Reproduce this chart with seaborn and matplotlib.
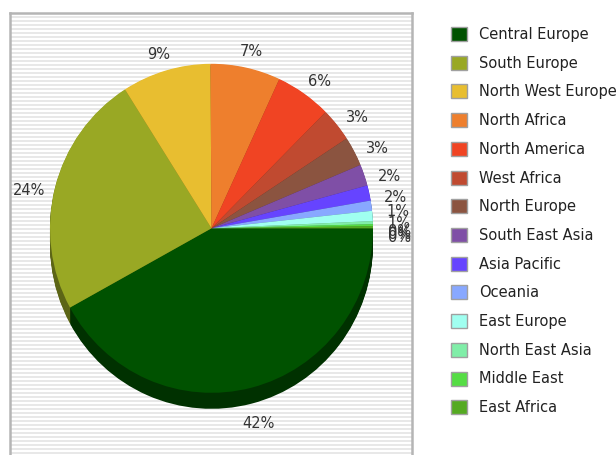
import matplotlib
matplotlib.use("Agg")
import matplotlib.pyplot as plt
import matplotlib.colors as mcolors
from matplotlib.patches import Patch
import numpy as np
import seaborn as sns

# Share of traffic by region (percent)
regions = [
    "Central Europe", "South Europe", "North West Europe", "North Africa",
    "North America", "West Africa", "North Europe", "South East Asia",
    "Asia Pacific", "Oceania", "East Europe", "North East Asia",
    "Middle East", "East Africa",
]
shares = [42.0, 24.0, 8.9, 7.0, 5.6, 3.3, 2.9, 2.1, 1.5, 1.0, 1.0, 0.3, 0.2, 0.2]
colors = [
    "#005200", "#99a824", "#e8be30", "#ee7f2d", "#f04423", "#c04a30",
    "#8b5440", "#7f4fa6", "#6644ff", "#88a8ff", "#a0fff0", "#80eea8",
    "#55dd44", "#55aa22",
]

sns.set_style("white")
plt.rcParams["font.family"] = ["DejaVu Sans"]

W, H = 616, 455
fig = plt.figure(figsize=(W / 100, H / 100), dpi=100)

# striped panel behind the pie (sizes in pixels)
px, py, pw, ph = 10, 1, 402, 441
bg = fig.add_axes([px / W, py / H, pw / W, ph / H], zorder=0)
bg.set_xlim(0, pw)
bg.set_ylim(0, ph)
bg.set_facecolor("white")
for y in range(0, ph, 4):
    bg.axhspan(y, y + 2, color="#e8e8e8", lw=0)
bg.set_xticks([])
bg.set_yticks([])
for s in bg.spines.values():
    s.set_color("#b5b5b5")
    s.set_linewidth(1.8)
bg.spines["bottom"].set_visible(False)

ax = fig.add_axes([px / W, py / H, pw / W, ph / H], zorder=1)
ax.patch.set_alpha(0)

# pie is slightly taller than wide
sy = 164.5 / 161.5
cx, cy, r = 201.5, (H - 228.3 - py) / sy, 161.5
depth = 16 / sy
dark = [tuple(c * 0.6 for c in mcolors.to_rgb(col)) for col in colors]

# extruded side of the pie
for d in np.arange(depth, 0, -1.0):
    ax.pie(shares, colors=dark, startangle=0, counterclock=False,
           center=(cx, cy - d), radius=r, wedgeprops=dict(lw=0))

wedges, _, autotexts = ax.pie(
    shares, colors=colors, startangle=0, counterclock=False,
    center=(cx, cy), radius=r, autopct="%.0f%%",
    wedgeprops=dict(lw=0),
    textprops=dict(color="#333333", fontsize=10.5),
)
# labels sit on an ellipse around the pie, pushed down toward the bottom
for w, t in zip(wedges, autotexts):
    mid = np.deg2rad((w.theta1 + w.theta2) / 2)
    s = np.sin(mid)
    t.set_position((cx + 1.164 * r * np.cos(mid),
                    cy + 1.103 * r * s - 0.62 * depth * (1 - s)))
    t.set_ha("center")
    t.set_va("center")

ax.set_aspect("auto")
ax.set_xlim(0, pw)
ax.set_ylim(0, ph / sy)
ax.axis("off")

handles = [Patch(facecolor=c, edgecolor="#a0a0a0", lw=1.0) for c in colors]
fig.legend(handles, regions, loc="upper left",
           bbox_to_anchor=(451 / W, 1 - 27 / H), frameon=False,
           fontsize=10.5, handlelength=1.1, handleheight=1.1,
           handletextpad=0.85, labelspacing=0.94, borderpad=0,
           borderaxespad=0, labelcolor="#222222")

fig.savefig("out.png", dpi=100)
